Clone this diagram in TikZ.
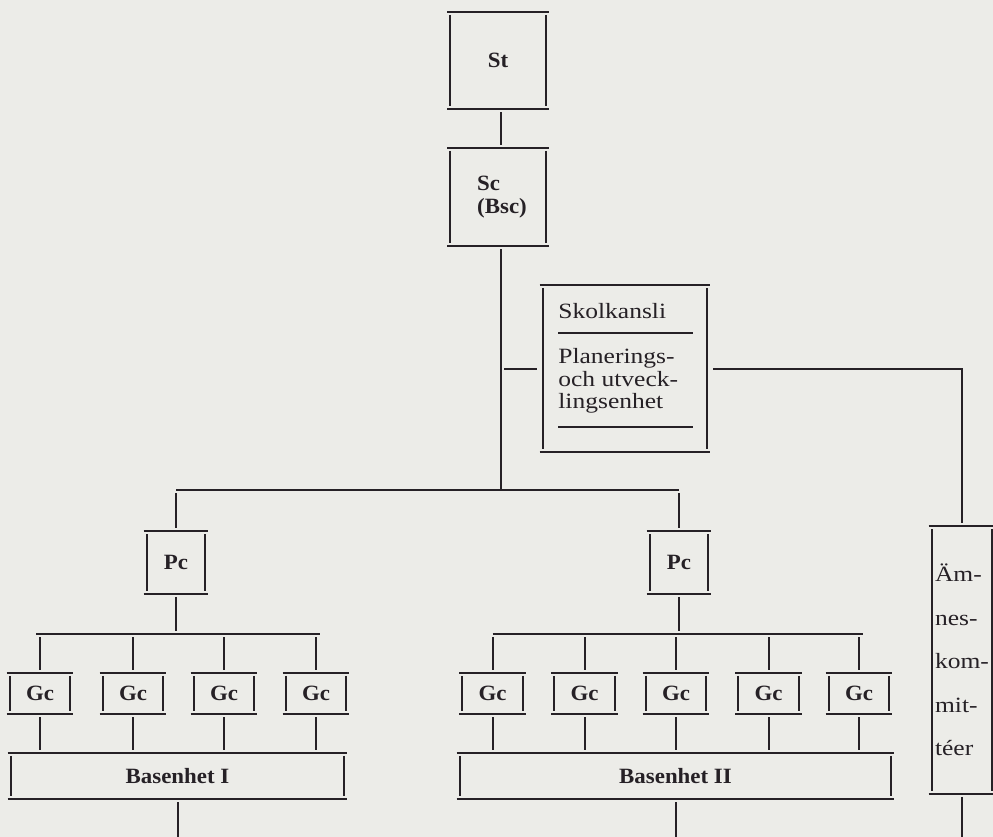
\documentclass[tikz,border=0pt]{standalone}
\usepackage{fontspec}
\setmainfont[FakeStretch=1.17]{Liberation Serif}
\newfontfamily\labelfont[FakeStretch=1.05]{Liberation Serif}
\usepackage{tikz}
\usetikzlibrary{positioning,calc}
\definecolor{paper}{RGB}{236,236,232}
\definecolor{ink}{RGB}{38,33,38}
\newcommand\unitfont{\labelfont\bfseries\fontsize{10.9}{11.5}\selectfont}
\newcommand\plainfont{\fontsize{10.9}{11.25}\selectfont}

\begin{document}
\begin{tikzpicture}[x=0.5pt,y=-0.5pt,
  rule/.style={line width=1pt,draw=ink},
  unit/.style={inner sep=0pt,font=\unitfont,text=ink,
    append after command={
      (\tikzlastnode.north west) edge[rule] (\tikzlastnode.north east)
      (\tikzlastnode.south west) edge[rule] (\tikzlastnode.south east)
      ([shift={(1.6pt,-1.6pt)}]\tikzlastnode.north west) edge[rule] ([shift={(1.6pt,1.6pt)}]\tikzlastnode.south west)
      ([shift={(-1.6pt,-1.6pt)}]\tikzlastnode.north east) edge[rule] ([shift={(-1.6pt,1.6pt)}]\tikzlastnode.south east)}},
  link/.style={rule,shorten <=1.5pt,shorten >=1.5pt},
  gcbox/.style={unit,minimum width=33pt,minimum height=20.5pt}]
\fill[paper] (0,0) rectangle (993,837);
\useasboundingbox (0,0) rectangle (993,837);
\clip (0,0) rectangle (993,837);

\node[unit,minimum width=50.5pt,minimum height=48.5pt] (st) at (498,60.5) {St};
\node[unit,minimum width=50.5pt,minimum height=49pt,align=left] (sc) at (498,197) {\hspace*{4pt}Sc\\\hspace*{4pt}(Bsc)};
\node[unit,minimum width=85pt,minimum height=83.5pt] (kansli) at (625,368.5) {};
\node[anchor=base west,font=\plainfont,text=ink,inner sep=0pt] (kansliname) at (558,318) {Skolkansli};
\node[anchor=north west,align=left,font=\plainfont,text=ink,inner sep=0pt] (kanslienhet) at (558,348) {Planerings-\\och utveck-\\lingsenhet};
\draw[rule,line width=0.8pt] (558,333) -- (693,333);
\draw[rule,line width=0.8pt] (558,427) -- (693,427);

\node[unit,minimum width=32pt,minimum height=31pt] (pcI) at (176,562.5) {Pc};
\node[unit,minimum width=32pt,minimum height=31pt] (pcII) at (679,562.5) {Pc};
\foreach \n/\x in {a/40,b/133,c/224,d/316}
  \node[gcbox] (gcI\n) at (\x,693.5) {Gc};
\foreach \n/\x in {a/492.5,b/584.5,c/676,d/768.5,e/859}
  \node[gcbox] (gcII\n) at (\x,693.5) {Gc};
\node[unit,minimum width=169.5pt,minimum height=23pt] (basI) at (177.5,776) {Basenhet I};
\node[unit,minimum width=218.5pt,minimum height=23pt] (basII) at (675.5,776) {Basenhet II};
\node[unit,minimum width=33pt,minimum height=133.5pt,align=left,font=\fontsize{10.9}{21.75}\selectfont] (amne) at (962,660) {Äm-\\nes-\\kom-\\mit-\\téer};

\coordinate (fork) at (501,490);
\coordinate (busrow) at (0,634);
\coordinate (pageend) at (0,845);
\draw[link] (fork |- st.south) -- (fork |- sc.north);
\draw[rule,shorten <=1.5pt] (fork |- sc.south) -- (fork);
\draw[link] (fork |- kansli.west) -- (kansli.west);
\draw[link] (kansli.east) -| (amne.north);
\draw[rule] (fork -| pcI) -- (fork -| pcII);
\draw[link] (fork -| pcI) -- (pcI.north);
\draw[link] (fork -| pcII) -- (pcII.north);
\draw[link] (pcI.south) -- (pcI.south |- busrow);
\draw[link] (pcII.south) -- (pcII.south |- busrow);
\draw[rule] ([xshift=-2pt]gcIa |- busrow) -- ([xshift=2pt]gcId |- busrow);
\draw[rule] (gcIIa |- busrow) -- ([xshift=2pt]gcIIe |- busrow);
\foreach \n in {a,b,c,d} {
  \draw[link] (gcI\n |- busrow) -- (gcI\n.north);
  \draw[link] (gcI\n.south) -- (gcI\n |- basI.north);
}
\foreach \n in {a,b,c,d,e} {
  \draw[link] (gcII\n |- busrow) -- (gcII\n.north);
  \draw[link] (gcII\n.south) -- (gcII\n |- basII.north);
}
\draw[link] (basI.south) -- (basI.south |- pageend);
\draw[link] (basII.south) -- (basII.south |- pageend);
\draw[link] (amne.south) -- (amne.south |- pageend);
\end{tikzpicture}
\end{document}
